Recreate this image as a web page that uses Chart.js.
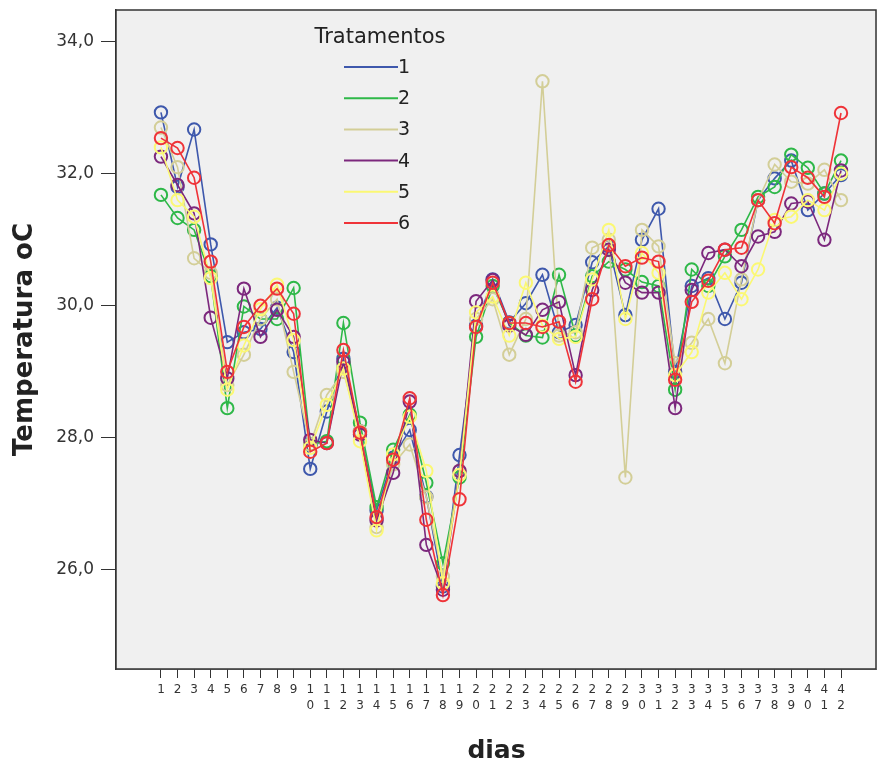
<!DOCTYPE html>
<html>
<head>
<meta charset="utf-8">
<script src="https://cdn.jsdelivr.net/npm/chart.js@4.4.1/dist/chart.umd.min.js"></script>
<style>
  html, body { margin: 0; padding: 0; background: #ffffff; overflow: hidden; }
  #wrap { width: 877px; height: 769px; position: relative; }
</style>
</head>
<body>
<div id="wrap"><canvas id="c"></canvas></div>
<script>
const days = [1,2,3,4,5,6,7,8,9,10,11,12,13,14,15,16,17,18,19,20,21,22,23,24,25,26,27,28,29,30,31,32,33,34,35,36,37,38,39,40,41,42];
const yTicks = [26, 28, 30, 32, 34];
const seriesNames = ["1", "2", "3", "4", "5", "6"];
const legendTitle = "Tratamentos";
const xTitle = "dias";
const yTitle = "Temperatura oC";

const trat1 = [32.93,31.80,32.67,30.93,29.45,29.60,29.65,29.97,29.30,27.53,28.40,29.20,28.10,26.90,27.70,28.12,27.11,25.75,27.74,29.70,30.40,29.75,30.04,30.47,29.60,29.71,30.66,30.90,29.86,31.00,31.47,29.00,30.30,30.42,29.80,30.35,31.60,31.93,32.20,31.45,31.70,31.98];
const trat2 = [31.68,31.33,31.15,30.45,28.45,29.99,29.80,29.80,30.27,27.90,27.95,29.74,28.23,26.95,27.82,28.35,27.32,26.10,27.40,29.53,30.30,29.74,29.55,29.52,30.47,29.55,30.45,30.67,30.55,30.36,30.30,28.73,30.55,30.30,30.75,31.15,31.65,31.80,32.29,32.09,31.70,32.20];
const trat3 = [32.70,32.10,30.72,30.50,28.80,29.26,29.80,30.10,29.00,27.90,28.65,29.00,28.10,26.65,27.60,27.90,27.10,25.90,27.50,29.80,30.10,29.26,29.80,33.40,29.55,29.60,30.88,31.00,27.40,31.15,30.90,29.13,29.44,29.80,29.13,30.40,31.60,32.14,31.88,31.85,32.06,31.60];
const trat4 = [32.26,31.83,31.40,29.82,28.90,30.26,29.53,29.94,29.53,27.97,27.92,29.15,28.05,26.75,27.47,28.55,26.38,25.70,27.50,30.07,30.39,29.70,29.56,29.94,30.06,28.95,30.24,30.85,30.35,30.20,30.20,28.45,30.24,30.80,30.85,30.60,31.05,31.12,31.55,31.58,31.00,32.05];
const trat5 = [32.40,31.60,31.35,30.42,28.73,29.40,29.95,30.32,29.48,27.85,28.50,29.05,27.95,26.60,27.75,28.32,27.50,25.80,27.44,29.90,30.14,29.55,30.35,29.70,29.50,29.53,30.40,31.15,29.80,30.80,30.50,28.95,29.30,30.20,30.50,30.10,30.55,31.30,31.35,31.60,31.45,32.00];
const trat6 = [32.54,32.39,31.94,30.67,29.00,29.68,30.00,30.26,29.88,27.79,27.92,29.33,28.08,26.80,27.67,28.60,26.76,25.62,27.07,29.68,30.35,29.74,29.74,29.68,29.76,28.85,30.10,30.92,30.60,30.73,30.67,28.88,30.06,30.38,30.85,30.88,31.60,31.25,32.10,31.94,31.65,32.92];

const allSeries = [trat1, trat2, trat3, trat4, trat5, trat6];
const colors = ["#3e58ac", "#2eb848", "#d3ce97", "#7c287d", "#fbf873", "#ef3338"];

const FONT = "'DejaVu Sans', Verdana, sans-serif";
Chart.defaults.font.family = FONT;
Chart.defaults.color = "#333333";

const datasets = allSeries.map((vals, i) => ({
  label: seriesNames[i],
  data: vals.map((v, k) => ({ x: days[k], y: v })),
  borderColor: colors[i],
  backgroundColor: "rgba(0,0,0,0)",
  borderWidth: 1.6,
  pointRadius: 6.2,
  pointBorderWidth: 2,
  pointBorderColor: colors[i],
  pointBackgroundColor: "rgba(0,0,0,0)",
  tension: 0,
  order: allSeries.length - i
}));

const plotFrame = {
  id: "plotFrame",
  beforeDatasetsDraw(chart) {
    const { ctx, chartArea: a } = chart;
    ctx.save();
    ctx.fillStyle = "#f0f0f0";
    ctx.fillRect(a.left, a.top, a.right - a.left, a.bottom - a.top);
    ctx.strokeStyle = "#333333";
    ctx.lineWidth = 1.5;
    ctx.strokeRect(a.left, a.top, a.right - a.left - 1, a.bottom - a.top);
    ctx.restore();
  },
  afterDatasetsDraw(chart) {
    const { ctx, chartArea: a } = chart;
    ctx.save();
    ctx.fillStyle = "#222222";
    ctx.font = "21px " + FONT;
    ctx.textAlign = "center";
    ctx.textBaseline = "middle";
    ctx.fillText(legendTitle, a.left + 264, a.top + 28);
    ctx.font = "19px " + FONT;
    chart.data.datasets.forEach((ds, i) => {
      const y = a.top + 57 + i * 31.2;
      ctx.strokeStyle = ds.borderColor;
      ctx.lineWidth = 2;
      ctx.beginPath();
      ctx.moveTo(a.left + 228, y);
      ctx.lineTo(a.left + 282, y);
      ctx.stroke();
      ctx.textAlign = "left";
      ctx.fillText(ds.label, a.left + 282, y + 1);
    });
    ctx.restore();
  }
};

new Chart(document.getElementById("c"), {
  type: "line",
  data: { datasets },
  plugins: [plotFrame],
  options: {
    responsive: true,
    maintainAspectRatio: false,
    animation: false,
    layout: { autoPadding: false, padding: { top: 10, right: 0, bottom: 0, left: 0 } },
    plugins: { legend: { display: false }, tooltip: { enabled: false } },
    scales: {
      x: {
        type: "linear",
        min: -1.71,
        max: 44.17,
        afterBuildTicks: s => { s.ticks = days.map(v => ({ value: v })); },
        afterFit: s => { s.height = 100; s.paddingLeft = 0; s.paddingRight = 0; },
        ticks: {
          autoSkip: false,
          maxRotation: 0,
          minRotation: 0,
          padding: 4,
          color: "#333333",
          font: { size: 12, lineHeight: 1.35 },
          callback: v => String(v).split("")
        },
        grid: { drawOnChartArea: false, drawTicks: true, tickLength: 9, tickColor: "#333333", tickWidth: 1 },
        border: { display: true, color: "#333333", width: 1.5 },
        title: { display: true, text: xTitle, color: "#222222", font: { size: 25, weight: "bold" }, padding: { top: 0, bottom: 3 } }
      },
      y: {
        type: "linear",
        min: 24.5,
        max: 34.48,
        afterBuildTicks: s => { s.ticks = yTicks.map(v => ({ value: v })); },
        afterFit: s => { s.width = 116; s.paddingTop = 0; s.paddingBottom = 0; },
        ticks: {
          padding: 7,
          color: "#333333",
          font: { size: 17 },
          callback: v => Number(v).toFixed(1).replace(".", ",")
        },
        grid: { drawOnChartArea: false, drawTicks: true, tickLength: 15, tickColor: "#333333", tickWidth: 1 },
        border: { display: true, color: "#333333", width: 1.5 },
        title: { display: true, text: yTitle, color: "#222222", font: { size: 26, weight: "bold" }, padding: { top: 10, bottom: 0 } }
      }
    }
  }
});
</script>
</body>
</html>
